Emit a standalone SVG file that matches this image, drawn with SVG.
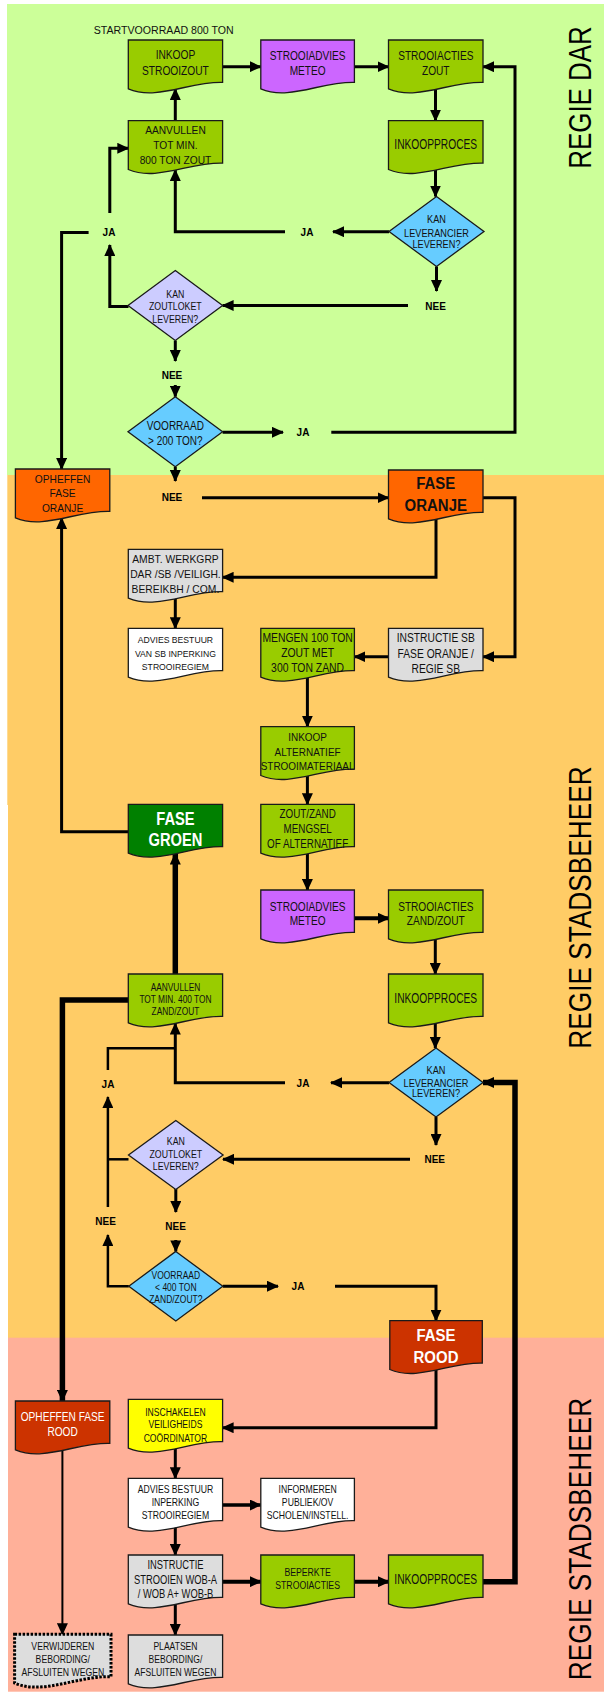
<svg xmlns="http://www.w3.org/2000/svg" width="604" height="1693" viewBox="0 0 604 1693">
<style>
.t{font-family:"Liberation Sans",Arial,sans-serif;fill:#111;text-anchor:middle;transform-box:fill-box;transform-origin:center}
.w{fill:#fff}
.b{font-weight:bold}
.lab{font-family:"Liberation Sans",Arial,sans-serif;font-weight:bold;font-size:10px;fill:#000;text-anchor:middle}
.side{font-family:"Liberation Sans",Arial,sans-serif;font-size:32px;fill:#000;text-anchor:middle}
.k72{transform:scaleX(.72)}.k73{transform:scaleX(.73)}.k77{transform:scaleX(.77)}.k78{transform:scaleX(.78)}
.k79{transform:scaleX(.79)}.k80{transform:scaleX(.8)}.k81{transform:scaleX(.81)}.k82{transform:scaleX(.82)}
.k84{transform:scaleX(.84)}.k85{transform:scaleX(.85)}.k86{transform:scaleX(.86)}.k87{transform:scaleX(.87)}
.k88{transform:scaleX(.88)}.k89{transform:scaleX(.89)}.k92{transform:scaleX(.92)}.k93{transform:scaleX(.93)}
.s{stroke:#1a1a1a;stroke-width:1.3}
.g{fill:#99CC00}.p{fill:#CC66FF}.gr{fill:#DDDDDD}.wh{fill:#FFFFFF}.or{fill:#FF6600}.dg{fill:#008000}
.rd{fill:#CC3300}.ye{fill:#FFFF00}.bl{fill:#66CCFF}.lv{fill:#CCCCFF}
.dot{stroke:#000;stroke-width:3;stroke-dasharray:2.5 1.5}
.c{fill:none;stroke:#000;stroke-width:3}
.ct{fill:none;stroke:#000;stroke-width:5.5}
.cn{fill:none;stroke:#000;stroke-width:2}
</style>
<defs>
<marker id="ah" markerUnits="userSpaceOnUse" markerWidth="12" markerHeight="11" refX="11" refY="5.5" orient="auto">
<path d="M0,0 L12,5.5 L0,11 Z" fill="#000"/>
</marker>
</defs>

<g id="backgrounds">
<rect x="7" y="4" width="597" height="471" fill="#CCFF99"/>
<rect x="7.3" y="475" width="596.7" height="330" fill="#FFCC66"/>
<rect x="8" y="805" width="596" height="533" fill="#FFCC66"/>
<rect x="8" y="1337.7" width="596" height="354" fill="#FFB099"/>
</g>

<g id="side-labels">
<text class="side" transform="translate(591,97.5) rotate(-90) scale(0.81,1)" x="0" y="0">REGIE DAR</text>
<text class="side" transform="translate(591,907.5) rotate(-90) scale(0.82,1)" x="0" y="0">REGIE STADSBEHEER</text>
<text class="side" transform="translate(591,1539) rotate(-90) scale(0.82,1)" x="0" y="0">REGIE STADSBEHEER</text>
</g>

<g id="connectors">
<path class="c" d="M222.6,66.7 H260.8" marker-end="url(#ah)"/>
<path class="c" d="M354.4,66.7 H388.5" marker-end="url(#ah)"/>
<path class="c" d="M435.5,89 V120.7" marker-end="url(#ah)"/>
<path class="c" d="M175.3,120.7 V89" marker-end="url(#ah)"/>
<path class="c" d="M435.5,169.7 V196.5" marker-end="url(#ah)"/>
<path class="c" d="M389,231.7 H333" marker-end="url(#ah)"/>
<path class="c" d="M285,231.7 H175.3 V170" marker-end="url(#ah)"/>
<path class="c" d="M436.5,266.5 V291" marker-end="url(#ah)"/>
<path class="c" d="M408,305.5 H222.6" marker-end="url(#ah)"/>
<path class="c" d="M128.5,306.5 H109.8 V245" marker-end="url(#ah)"/>
<path class="c" d="M109.8,213 V148.3 H128.3" marker-end="url(#ah)"/>
<path class="c" d="M88.6,232.5 H61.6 V469" marker-end="url(#ah)"/>
<path class="c" d="M175.3,340.5 V361" marker-end="url(#ah)"/>
<path class="c" d="M175.3,385 V396.7" marker-end="url(#ah)"/>
<path class="c" d="M222.6,432.3 H283" marker-end="url(#ah)"/>
<path class="c" d="M331.3,432.3 H515 V66.7 H483" marker-end="url(#ah)"/>
<path class="c" d="M175.3,466.7 V481" marker-end="url(#ah)"/>
<path class="c" d="M202,497.7 H388.5" marker-end="url(#ah)"/>
<path class="c" d="M483,497.7 H515 V656.7 H483" marker-end="url(#ah)"/>
<path class="c" d="M436,519 V577.3 H222.6" marker-end="url(#ah)"/>
<path class="c" d="M175.3,598 V628.3" marker-end="url(#ah)"/>
<path class="c" d="M388.5,656.7 H354.4" marker-end="url(#ah)"/>
<path class="c" d="M307.4,677 V726.7" marker-end="url(#ah)"/>
<path class="c" d="M307.4,775.5 V804.3" marker-end="url(#ah)"/>
<path class="c" d="M307.4,853 V890" marker-end="url(#ah)"/>
<path class="c" d="M128.3,831.7 H61.6 V518" marker-end="url(#ah)"/>
<path class="c" style="stroke-width:4" d="M354.4,918.3 H389" marker-end="url(#ah)"/>
<path class="c" d="M435.3,939 V974" marker-end="url(#ah)"/>
<path class="ct" d="M175.3,974 V853.5" marker-end="url(#ah)"/>
<path class="c" d="M435.3,1023 V1048" marker-end="url(#ah)"/>
<path class="c" d="M389,1082.7 H331" marker-end="url(#ah)"/>
<path class="c" d="M285,1082.7 H175.3 V1023.5" marker-end="url(#ah)"/>
<path class="c" style="stroke-width:2.5" d="M107.9,1070 V1048.3 H175.3"/>
<path class="ct" d="M128.3,1000 H62.4 V1401" marker-end="url(#ah)"/>
<path class="ct" d="M483,1581.7 H515 V1082.5 H483" marker-end="url(#ah)"/>
<path class="c" d="M436,1117 V1145" marker-end="url(#ah)"/>
<path class="c" d="M410,1159.3 H223" marker-end="url(#ah)"/>
<path class="c" style="stroke-width:2.5" d="M128.5,1159.3 H107.9"/>
<path class="c" style="stroke-width:2.5" d="M107.9,1207 V1097" marker-end="url(#ah)"/>
<path class="c" d="M175.8,1188.5 V1212" marker-end="url(#ah)"/>
<path class="c" d="M175.8,1240 V1251.4" marker-end="url(#ah)"/>
<path class="c" style="stroke-width:2.5" d="M128.8,1286.2 H107.9 V1235" marker-end="url(#ah)"/>
<path class="c" d="M222.8,1286.2 H278" marker-end="url(#ah)"/>
<path class="c" d="M335,1286.2 H436 V1320.7" marker-end="url(#ah)"/>
<path class="c" d="M436,1370 V1427.7 H222.6" marker-end="url(#ah)"/>
<path class="c" d="M175.3,1448 V1478.3" marker-end="url(#ah)"/>
<path class="c" style="stroke-width:3.5" d="M222.6,1505 H260.8" marker-end="url(#ah)"/>
<path class="c" d="M175.3,1527 V1555" marker-end="url(#ah)"/>
<path class="c" style="stroke-width:4" d="M222.6,1581.7 H260.8" marker-end="url(#ah)"/>
<path class="c" style="stroke-width:4" d="M354.4,1581.7 H389" marker-end="url(#ah)"/>
<path class="c" d="M175.3,1604 V1635" marker-end="url(#ah)"/>
<path class="cn" d="M62.4,1450 V1634.3" marker-end="url(#ah)"/>
</g>

<g id="edge-labels">
<text class="lab" x="109" y="236.1">JA</text>
<text class="lab" x="307" y="235.6">JA</text>
<text class="lab" x="435.6" y="309.6">NEE</text>
<text class="lab" x="172" y="379.3">NEE</text>
<text class="lab" x="303" y="435.6">JA</text>
<text class="lab" x="172" y="501.3">NEE</text>
<text class="lab" x="303" y="1086.6">JA</text>
<text class="lab" x="108" y="1087.9">JA</text>
<text class="lab" x="434.7" y="1162.9">NEE</text>
<text class="lab" x="175.6" y="1230.3">NEE</text>
<text class="lab" x="105.6" y="1225.3">NEE</text>
<text class="lab" x="298" y="1290.3">JA</text>
</g>

<g id="start-label">
<text class="t" x="163.7" y="34.3" font-size="10" textLength="140" lengthAdjust="spacingAndGlyphs">STARTVOORRAAD 800 TON</text>
</g>

<g id="n-inkoop-strooizout">
<path class="s g" d="M128.3,40 H222.6 V82.4 C189.6,81.3 156.6,101 128.3,88.8 Z"/>
<text class="t k85" font-size="12"><tspan x="175.45" y="59.3">INKOOP</tspan><tspan x="175.45" y="75">STROOIZOUT</tspan></text>
</g>
<g id="n-strooiadvies-meteo-1">
<path class="s p" d="M260.8,40 H354.4 V82.4 C321.6,81.3 288.9,101 260.8,88.8 Z"/>
<text class="t k81" font-size="12.5"><tspan x="307.6" y="60.2">STROOIADVIES</tspan><tspan x="307.6" y="75.2">METEO</tspan></text>
</g>
<g id="n-strooiacties-zout">
<path class="s g" d="M388.5,40 H483 V82.4 C449.9,81.3 416.9,101 388.5,88.8 Z"/>
<text class="t k81" font-size="12.5"><tspan x="435.75" y="60.2">STROOIACTIES</tspan><tspan x="435.75" y="75.2">ZOUT</tspan></text>
</g>
<g id="n-aanvullen-800">
<path class="s g" d="M128.3,120.7 H222.6 V163.1 C189.6,162 156.6,181.7 128.3,169.5 Z"/>
<text class="t k88" font-size="11.6"><tspan x="175.45" y="134.2">AANVULLEN</tspan><tspan x="175.45" y="149.2">TOT MIN.</tspan><tspan x="175.45" y="164.2">800 TON ZOUT</tspan></text>
</g>
<g id="n-inkoopproces-1">
<path class="s g" d="M388.5,120.7 H483 V163.1 C449.9,162 416.9,181.7 388.5,169.5 Z"/>
<text class="t k73" font-size="14" x="435.75" y="149">INKOOPPROCES</text>
</g>
<g id="n-kan-leverancier-1">
<polygon class="s bl" points="436.5,196.5 484,231.5 436.5,266.5 389,231.5"/>
<text class="t k92" font-size="10"><tspan x="436.5" y="223.3">KAN</tspan><tspan x="436.5" y="236.7">LEVERANCIER</tspan><tspan x="436.5" y="248.5">LEVEREN?</tspan></text>
</g>
<g id="n-kan-zoutloket-1">
<polygon class="s lv" points="175.3,270.5 222.6,305.5 175.3,340.5 128,305.5"/>
<text class="t k88" font-size="10"><tspan x="175.3" y="297.9">KAN</tspan><tspan x="175.3" y="310.3">ZOUTLOKET</tspan><tspan x="175.3" y="322.9">LEVEREN?</tspan></text>
</g>
<g id="n-voorraad-200">
<polygon class="s bl" points="175.3,396.7 222.6,431.7 175.3,466.7 128,431.7"/>
<text class="t k77" font-size="13"><tspan x="175.3" y="429.7">VOORRAAD</tspan><tspan x="175.3" y="445.4">&gt; 200 TON?</tspan></text>
</g>
<g id="n-opheffen-fase-oranje">
<path class="s or" d="M15.4,469 H109.8 V511.4 C76.8,510.3 43.7,530 15.4,517.8 Z"/>
<text class="t k88" font-size="11.6"><tspan x="62.6" y="483.2">OPHEFFEN</tspan><tspan x="62.6" y="497.5">FASE</tspan><tspan x="62.6" y="511.9">ORANJE</tspan></text>
</g>
<g id="n-fase-oranje">
<path class="s or" d="M388.5,470 H483 V512.4 C449.9,511.3 416.9,531 388.5,518.8 Z"/>
<text class="t b k88" font-size="17"><tspan x="435.75" y="489.1">FASE</tspan><tspan x="435.75" y="511.1">ORANJE</tspan></text>
</g>
<g id="n-ambt-werkgrp">
<path class="s gr" d="M128.3,549.3 H222.6 V591.7 C189.6,590.6 156.6,610.3 128.3,598.1 Z"/>
<text class="t k89" font-size="11.6"><tspan x="175.45" y="563.5">AMBT. WERKGRP</tspan><tspan x="175.45" y="578.5">DAR /SB /VEILIGH.</tspan><tspan x="175.45" y="593.5">BEREIKBH / COM.</tspan></text>
</g>
<g id="n-advies-bestuur-1">
<path class="s wh" d="M128.3,628.3 H222.6 V670.7 C189.6,669.6 156.6,689.3 128.3,677.1 Z"/>
<text class="t k93" font-size="9.3"><tspan x="175.45" y="643.3">ADVIES BESTUUR</tspan><tspan x="175.45" y="656.6">VAN SB INPERKING</tspan><tspan x="175.45" y="670">STROOIREGIEM</tspan></text>
</g>
<g id="n-mengen">
<path class="s g" d="M260.8,628.3 H354.4 V670.7 C321.6,669.6 288.9,689.3 260.8,677.1 Z"/>
<text class="t k80" font-size="13"><tspan x="307.6" y="642.4">MENGEN 100 TON</tspan><tspan x="307.6" y="657">ZOUT MET</tspan><tspan x="307.6" y="672">300 TON ZAND</tspan></text>
</g>
<g id="n-instructie-sb">
<path class="s gr" d="M388.5,628.3 H483 V670.7 C449.9,669.6 416.9,689.3 388.5,677.1 Z"/>
<text class="t k79" font-size="13"><tspan x="435.75" y="642.4">INSTRUCTIE SB</tspan><tspan x="435.75" y="658">FASE ORANJE /</tspan><tspan x="435.75" y="672.7">REGIE SB</tspan></text>
</g>
<g id="n-inkoop-alternatief">
<path class="s g" d="M260.8,726.7 H354.4 V769.1 C321.6,768 288.9,787.7 260.8,775.5 Z"/>
<text class="t k86" font-size="11.6"><tspan x="307.6" y="740.9">INKOOP</tspan><tspan x="307.6" y="755.9">ALTERNATIEF</tspan><tspan x="307.6" y="770.2">STROOIMATERIAAL</tspan></text>
</g>
<g id="n-zout-zand-mengsel">
<path class="s g" d="M260.8,804.3 H354.4 V846.7 C321.6,845.6 288.9,865.3 260.8,853.1 Z"/>
<text class="t k82" font-size="12"><tspan x="307.6" y="818.3">ZOUT/ZAND</tspan><tspan x="307.6" y="832.6">MENGSEL</tspan><tspan x="307.6" y="847.6">OF ALTERNATIEF</tspan></text>
</g>
<g id="n-fase-groen">
<path class="s dg" d="M128.3,804.3 H222.6 V846.7 C189.6,845.6 156.6,865.3 128.3,853.1 Z"/>
<text class="t w b k84" font-size="17.5"><tspan x="175.45" y="824.6">FASE</tspan><tspan x="175.45" y="846.3">GROEN</tspan></text>
</g>
<g id="n-strooiadvies-meteo-2">
<path class="s p" d="M260.8,890 H354.4 V932.4 C321.6,931.3 288.9,951 260.8,938.8 Z"/>
<text class="t k81" font-size="12.5"><tspan x="307.6" y="911.2">STROOIADVIES</tspan><tspan x="307.6" y="925.5">METEO</tspan></text>
</g>
<g id="n-strooiacties-zand-zout">
<path class="s g" d="M388.5,890 H483 V932.4 C449.9,931.3 416.9,951 388.5,938.8 Z"/>
<text class="t k81" font-size="12.5"><tspan x="435.75" y="911.2">STROOIACTIES</tspan><tspan x="435.75" y="925.5">ZAND/ZOUT</tspan></text>
</g>
<g id="n-aanvullen-400">
<path class="s g" d="M128.3,974 H222.6 V1016.4 C189.6,1015.3 156.6,1035 128.3,1022.8 Z"/>
<text class="t k78" font-size="10.7"><tspan x="175.45" y="990.6">AANVULLEN</tspan><tspan x="175.45" y="1002.9">TOT MIN. 400 TON</tspan><tspan x="175.45" y="1014.9">ZAND/ZOUT</tspan></text>
</g>
<g id="n-inkoopproces-2">
<path class="s g" d="M388.5,974 H483 V1016.4 C449.9,1015.3 416.9,1035 388.5,1022.8 Z"/>
<text class="t k73" font-size="14" x="435.75" y="1002.7">INKOOPPROCES</text>
</g>
<g id="n-kan-leverancier-2">
<polygon class="s bl" points="436,1048 483,1082.5 436,1117 389,1082.5"/>
<text class="t k92" font-size="10"><tspan x="436" y="1074">KAN</tspan><tspan x="436" y="1087.5">LEVERANCIER</tspan><tspan x="436" y="1097.5">LEVEREN?</tspan></text>
</g>
<g id="n-kan-zoutloket-2">
<polygon class="s lv" points="175.8,1120.5 223.1,1155 175.8,1189.5 128.5,1155"/>
<text class="t k88" font-size="10"><tspan x="175.8" y="1145.3">KAN</tspan><tspan x="175.8" y="1157.9">ZOUTLOKET</tspan><tspan x="175.8" y="1170.3">LEVEREN?</tspan></text>
</g>
<g id="n-voorraad-400">
<polygon class="s bl" points="175.8,1251.4 222.8,1286.2 175.8,1321 128.8,1286.2"/>
<text class="t k85" font-size="10"><tspan x="175.8" y="1278.6">VOORRAAD</tspan><tspan x="175.8" y="1291.3">&lt; 400 TON</tspan><tspan x="175.8" y="1302.9">ZAND/ZOUT?</tspan></text>
</g>
<g id="n-fase-rood">
<path class="s rd" d="M389.8,1320.7 H482.3 V1363.1 C449.9,1362 417.5,1381.7 389.8,1369.5 Z"/>
<text class="t w b k88" font-size="17"><tspan x="436" y="1341.1">FASE</tspan><tspan x="436" y="1362.8">ROOD</tspan></text>
</g>
<g id="n-opheffen-fase-rood">
<path class="s rd" d="M15.4,1401 H109.8 V1443.4 C76.8,1442.3 43.7,1462 15.4,1449.8 Z"/>
<text class="t w k78" font-size="13"><tspan x="62.6" y="1421.4">OPHEFFEN FASE</tspan><tspan x="62.6" y="1436.4">ROOD</tspan></text>
</g>
<g id="n-inschakelen">
<path class="s ye" d="M128.3,1399.3 H222.6 V1441.7 C189.6,1440.6 156.6,1460.3 128.3,1448.1 Z"/>
<text class="t k78" font-size="11"><tspan x="175.45" y="1415.7">INSCHAKELEN</tspan><tspan x="175.45" y="1428.3">VEILIGHEIDS</tspan><tspan x="175.45" y="1442.3">COÖRDINATOR</tspan></text>
</g>
<g id="n-advies-bestuur-2">
<path class="s wh" d="M128.3,1478.3 H222.6 V1520.7 C189.6,1519.6 156.6,1539.3 128.3,1527.1 Z"/>
<text class="t k81" font-size="10.7"><tspan x="175.45" y="1493.2">ADVIES BESTUUR</tspan><tspan x="175.45" y="1505.6">INPERKING</tspan><tspan x="175.45" y="1518.9">STROOIREGIEM</tspan></text>
</g>
<g id="n-informeren">
<path class="s wh" d="M260.8,1478.3 H354.4 V1520.7 C321.6,1519.6 288.9,1539.3 260.8,1527.1 Z"/>
<text class="t k81" font-size="10.7"><tspan x="307.6" y="1493.2">INFORMEREN</tspan><tspan x="307.6" y="1505.6">PUBLIEK/OV</tspan><tspan x="307.6" y="1518.9">SCHOLEN/INSTELL.</tspan></text>
</g>
<g id="n-instructie-strooien">
<path class="s gr" d="M128.3,1555 H222.6 V1597.4 C189.6,1596.3 156.6,1616 128.3,1603.8 Z"/>
<text class="t k72" font-size="13"><tspan x="175.45" y="1569">INSTRUCTIE</tspan><tspan x="175.45" y="1583.7">STROOIEN WOB-A</tspan><tspan x="175.45" y="1598">/ WOB A+ WOB-B</tspan></text>
</g>
<g id="n-beperkte-strooiacties">
<path class="s g" d="M260.8,1555 H354.4 V1597.4 C321.6,1596.3 288.9,1616 260.8,1603.8 Z"/>
<text class="t k87" font-size="10"><tspan x="307.6" y="1576.3">BEPERKTE</tspan><tspan x="307.6" y="1589.3">STROOIACTIES</tspan></text>
</g>
<g id="n-inkoopproces-3">
<path class="s g" d="M388.5,1555 H483 V1597.4 C449.9,1596.3 416.9,1616 388.5,1603.8 Z"/>
<text class="t k73" font-size="14" x="435.75" y="1584">INKOOPPROCES</text>
</g>
<g id="n-plaatsen-bebording">
<path class="s gr" d="M128.3,1635 H222.6 V1677.4 C189.6,1676.3 156.6,1696 128.3,1683.8 Z"/>
<text class="t k84" font-size="10.2"><tspan x="175.45" y="1650.4">PLAATSEN</tspan><tspan x="175.45" y="1663">BEBORDING/</tspan><tspan x="175.45" y="1676">AFSLUITEN WEGEN</tspan></text>
</g>
<g id="n-verwijderen-bebording">
<path class="dot gr" d="M14.6,1634.3 H111 V1676.7 C77.3,1675.6 43.5,1695.3 14.6,1683.1 Z"/>
<text class="t k85" font-size="10.2"><tspan x="62.8" y="1650.4">VERWIJDEREN</tspan><tspan x="62.8" y="1663">BEBORDING/</tspan><tspan x="62.8" y="1676">AFSLUITEN WEGEN</tspan></text>
</g>
</svg>
